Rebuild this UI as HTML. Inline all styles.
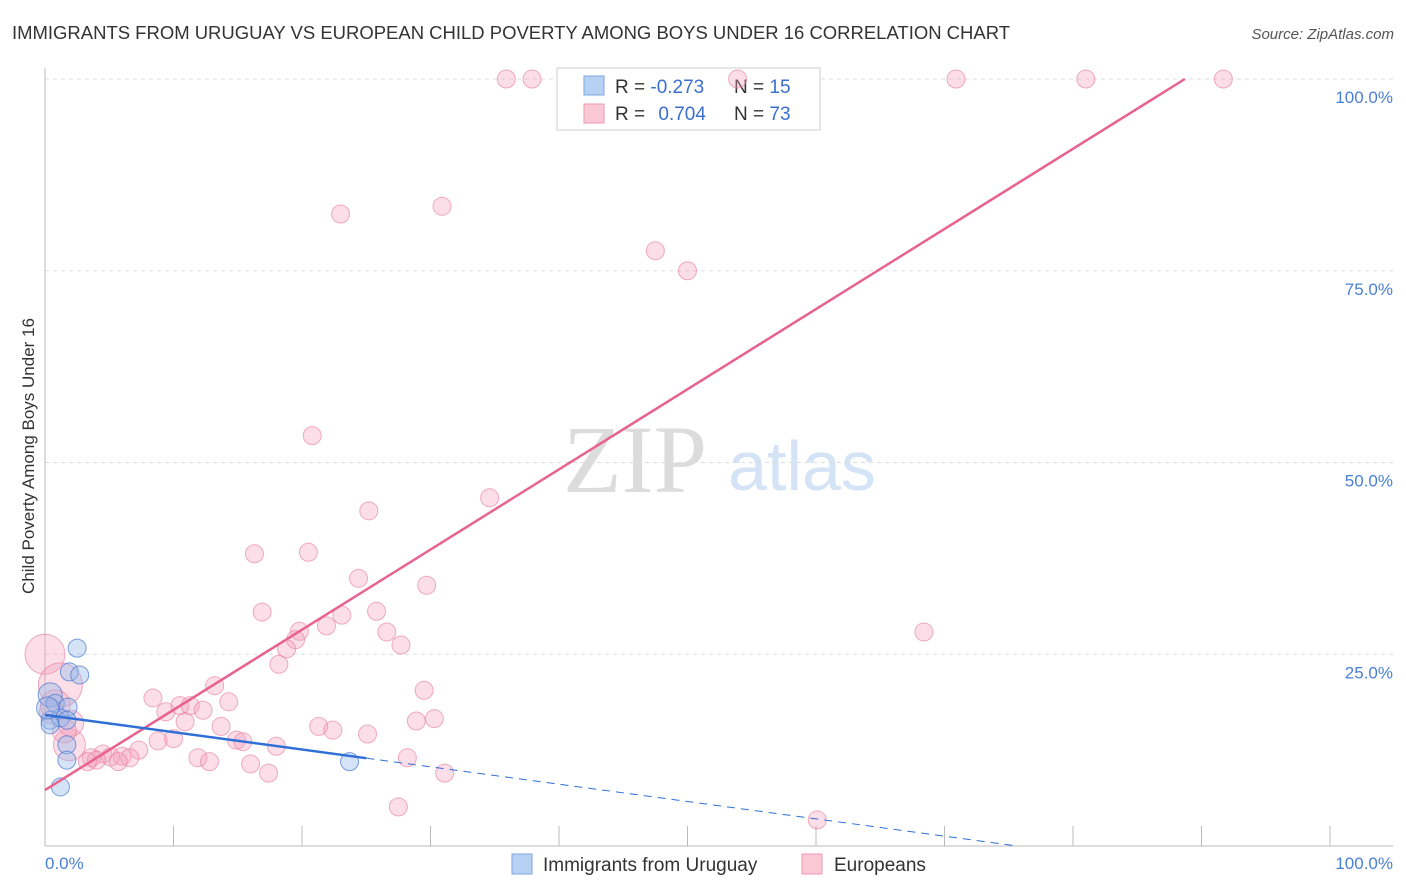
<!DOCTYPE html>
<html><head><meta charset="utf-8"><style>
body{margin:0;background:#fff;font-family:"Liberation Sans",sans-serif}
svg{display:block}
</style></head><body>
<svg id="chart" width="1406" height="892">
<text x="12" y="39" font-size="18.4" fill="#333" textLength="998" lengthAdjust="spacingAndGlyphs">IMMIGRANTS FROM URUGUAY VS EUROPEAN CHILD POVERTY AMONG BOYS UNDER 16 CORRELATION CHART</text>
<text x="1394" y="39" font-size="15" fill="#555" font-style="italic" text-anchor="end">Source: ZipAtlas.com</text>
<text x="635" y="492" font-size="96" fill="#dcdcdc" font-family="Liberation Serif,serif" text-anchor="middle">ZIP</text>
<text x="802" y="490" font-size="70" fill="#d4e3f5" text-anchor="middle">atlas</text>
<g id="grid"></g><g id="axes"></g>
<g>
<rect x="557" y="68" width="263" height="62" fill="#fff" stroke="#ccc"/>
<rect x="584" y="76" width="20" height="19" fill="#b7d1f4" stroke="#7ea6e0"/>
<rect x="584" y="104" width="20" height="19" fill="#f9c7d6" stroke="#ef9ab5"/>
<text x="615" y="93" font-size="19" fill="#333">R = <tspan fill="#3a6fd0">-0.273</tspan></text>
<text x="734" y="93" font-size="19" fill="#333">N = <tspan fill="#3a6fd0">15</tspan></text>
<text x="615" y="120" font-size="19" fill="#333">R = <tspan fill="#3a6fd0" dx="8">0.704</tspan></text>
<text x="734" y="120" font-size="19" fill="#333">N = <tspan fill="#3a6fd0">73</tspan></text>
</g>
<g id="pinkpts"></g><g id="bluepts"></g><g id="lines"></g>
<text x="34" y="456" font-size="17" fill="#333" text-anchor="middle" transform="rotate(-90 34 456)">Child Poverty Among Boys Under 16</text>
<text x="45" y="869" font-size="17" fill="#4a7fd6">0.0%</text>
<text x="1393" y="869" font-size="17" fill="#4a7fd6" text-anchor="end">100.0%</text>
<g>
<rect x="512" y="854" width="20" height="20" fill="#b7d1f4" stroke="#7ea6e0"/>
<text x="543" y="871" font-size="19" fill="#333">Immigrants from Uruguay</text>
<rect x="802" y="854" width="20" height="20" fill="#f9c7d6" stroke="#ef9ab5"/>
<text x="834" y="871" font-size="19" fill="#333">Europeans</text>
</g>
</svg>
<script>
const yTicks=[25,50,75,100];
const yTickLabels=["25.0%","50.0%","75.0%","100.0%"];
const xTicks=[0,10,20,30,40,50,60,70,80,90,100];
const pinkX=[35.9,37.9,53.9,70.9,81.0,91.7,23.0,30.9,47.5,50.0,20.8,34.6,25.2,16.3,20.5,24.4,29.7,16.9,25.8,23.1,19.8,21.9,26.6,19.5,27.7,18.8,18.2,68.4,13.2,29.5,8.4,14.3,9.4,10.5,11.3,12.3,28.9,30.3,10.9,13.7,21.3,22.4,25.1,14.9,15.4,10.0,8.8,18.0,7.3,4.5,6.0,6.6,3.6,5.1,4.0,3.3,5.7,11.9,12.8,28.2,16.0,17.4,31.1,27.5,60.1,0,1.2,0.8,1.9,2.0,0.5,1.5];
const pinkY=[100,100,100,100,100,100,82.4,83.4,77.6,75.0,53.5,45.4,43.7,38.1,38.3,34.9,34.0,30.5,30.6,30.1,28.0,28.7,27.9,26.9,26.2,25.7,23.7,27.9,20.9,20.3,19.3,18.8,17.5,18.3,18.3,17.7,16.3,16.6,16.2,15.6,15.6,15.1,14.6,13.8,13.6,14.0,13.7,13.0,12.5,12.0,11.7,11.5,11.5,11.6,11.2,11.0,11.0,11.5,11.0,11.5,10.7,9.5,9.5,5.1,3.4,25.0,21.0,18.4,13.2,16.0,17.5,15.0];
const pinkR=[9,9,9,9,9,9,9,9,9,9,9,9,9,9,9,9,9,9,9,9,9,9,9,9,9,9,9,9,9,9,9,9,9,9,9,9,9,9,9,9,9,9,9,9,9,9,9,9,9,9,9,9,9,9,9,9,9,9,9,9,9,9,9,9,9,20,22,15,16,13,12,12];
const blueX=[2.5,1.9,2.7,0.4,0.8,1.8,0.4,1.2,1.7,0.4,1.7,1.7,1.2,23.7,0.2];
const blueY=[25.8,22.7,22.3,19.7,18.6,18.1,16.4,16.7,16.4,15.8,13.2,11.2,7.7,11.0,18.0];
const blueR=[9,9,9,12,9,9,9,9,9,9,9,9,9,9,11];
const pinkLine=[7.3,1.045];   // intercept, slope
const blueLine=[17.1,-0.226];
const NS="http://www.w3.org/2000/svg";
const X=v=>45+v*12.85, Y=v=>846-v*7.67;
function mk(tag,attrs,parent){const e=document.createElementNS(NS,tag);for(const k in attrs)e.setAttribute(k,attrs[k]);document.getElementById(parent).appendChild(e);return e;}
yTicks.forEach((t,i)=>{
 const g=mk('line',{x1:45,x2:1393,y1:Y(t),y2:Y(t),stroke:'#ddd','stroke-dasharray':'4,4'},'grid');
 
 
 const l=mk('text',{x:1393,y:Y(t)+24,'font-size':17,fill:'#4a7fd6','text-anchor':'end'},'grid');
 l.textContent=yTickLabels[i];
 
 
});
const ax=mk('line',{x1:45,x2:1393,y1:846,y2:846,stroke:'#bbb'},'axes');


const ay=mk('line',{x1:45,x2:45,y1:68,y2:846,stroke:'#bbb'},'axes');


xTicks.forEach(t=>{
 const k=mk('line',{x1:X(t),x2:X(t),y1:826,y2:846,stroke:'#bbb'},'axes');
 
 
});
pinkX.forEach((x,i)=>{
 const c=mk('circle',{cx:X(x),cy:Y(pinkY[i]),r:pinkR[i],fill:'rgba(244,160,188,0.35)',stroke:'rgba(232,120,158,0.6)','stroke-width':1},'pinkpts');
 
 
});
blueX.forEach((x,i)=>{
 const c=mk('circle',{cx:X(x),cy:Y(blueY[i]),r:blueR[i],fill:'rgba(150,185,235,0.4)',stroke:'rgba(70,120,210,0.7)','stroke-width':1},'bluepts');
 
 
});
const pEnd=(100-pinkLine[0])/pinkLine[1];
const pl=mk('line',{x1:X(0),y1:Y(pinkLine[0]),x2:X(pEnd),y2:Y(100),stroke:'#e8628f','stroke-width':2.5},'lines');


const bSolid=25, bEnd=-blueLine[0]/blueLine[1];
const bl=mk('line',{x1:X(0),y1:Y(blueLine[0]),x2:X(bSolid),y2:Y(blueLine[0]+blueLine[1]*bSolid),stroke:'#2f6fd6','stroke-width':2.5},'lines');


const bd=mk('line',{x1:X(bSolid),y1:Y(blueLine[0]+blueLine[1]*bSolid),x2:X(bEnd),y2:Y(0),stroke:'#2f6fd6','stroke-width':1,'stroke-dasharray':'8,6'},'lines');


</script>
</body></html>
